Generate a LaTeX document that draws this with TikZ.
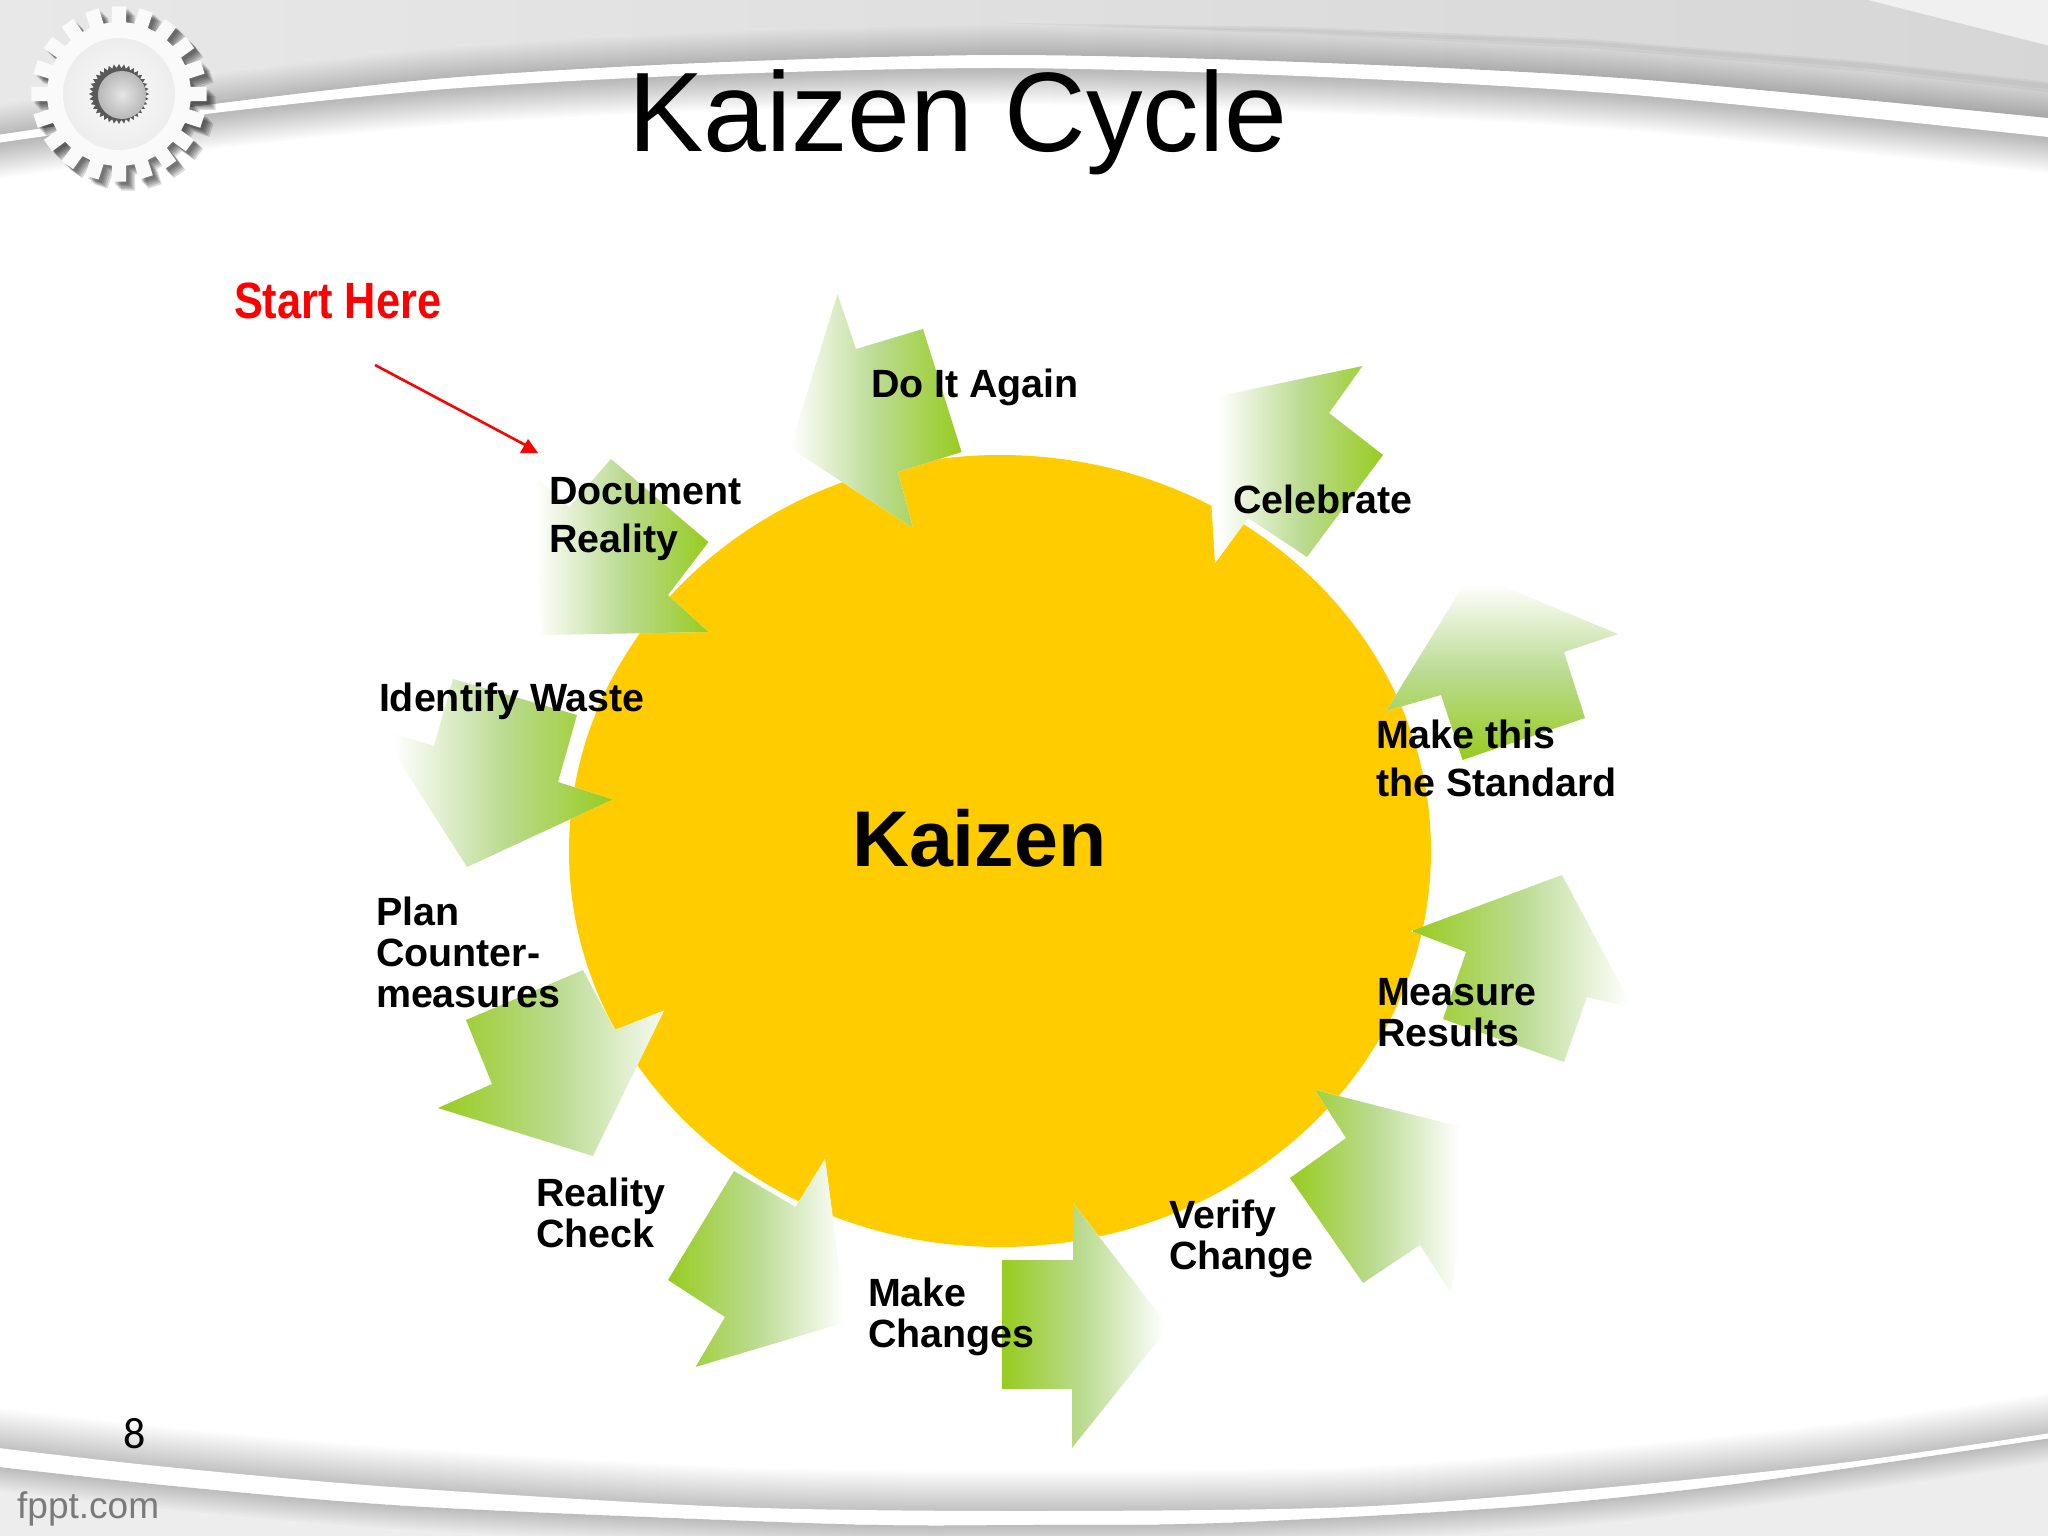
\documentclass[tikz,border=0pt]{standalone}
\usepackage{fontspec}
\setmainfont{Liberation Sans}
\newfontfamily\pagefont{Carlito}
\definecolor{kgreen}{HTML}{97CC1F}
\definecolor{kmid}{HTML}{BBDB92}
\definecolor{kyellow}{HTML}{FFCC00}
\def\CA#1#2{#1 -- plot[smooth] coordinates {(-10,136)(214,104)(446,78)(700,63)(1000,55)(1300,62)(1634,79)(2058,119)} -- #2}
\def\CB#1#2{#1 -- plot[smooth] coordinates {(-10,144)(214,113)(446,89)(700,75)(1000,68)(1300,76)(1634,95)(2058,138)} -- #2}
\def\CC#1#2{#1 -- plot[smooth] coordinates {(-10,1447)(157,1466)(392,1487)(732,1507)(1024,1511)(1351,1507)(1612,1487)(1841,1463)(2058,1432)} -- #2}
\def\CD#1#2{#1 -- plot[smooth] coordinates {(-10,1466)(183,1487)(425,1507)(837,1524)(1024,1525)(1220,1523)(1514,1507)(1743,1483)(2058,1437)} -- #2}
\newcommand{\kzarrow}[2]{%
  \fill[white] #1 -- cycle;
  \begin{scope}\clip #1 -- cycle; #2 \end{scope}}
\newcommand{\gearoutline}{(-5.6:72) foreach \i in {0,...,19}{ -- ({\i*18-5.6}:72) -- ({\i*18-4.6}:88) -- ({\i*18+4.6}:88) -- ({\i*18+5.6}:72) } -- cycle}
\tikzset{
  lbl/.style={inner sep=0pt,outer sep=0pt,anchor=base west,align=left,font=\fontsize{39.4}{41}\selectfont\bfseries},
  fadeR/.style={left color=white,right color=kgreen,middle color=kmid},
  fadeL/.style={left color=kgreen,right color=white,middle color=kmid},
  fadeB/.style={top color=white,bottom color=kgreen,middle color=kmid}
}
\begin{document}
\begin{tikzpicture}[x=1pt,y=-1pt]
\useasboundingbox (0,0) rectangle (2048,1536);
\fill[white] (0,0) rectangle (2048,1536);
% top band: shadow below the swoosh
\foreach \s in {2,4,...,36}{
  \begin{scope}[yshift=-\s pt]
    \fill[black,opacity=.014] \CB{(-10,-100)}{(2058,-100) -- cycle};
  \end{scope}}
\fill[white] \CB{(-10,-10)}{(2058,-10) -- cycle};
\begin{scope}
  \clip \CA{(-10,-10)}{(2058,-10) -- cycle};
  \shade[left color=black!9,right color=black!16] (-10,-10) rectangle (2058,200);
  \fill[black!6] (1868,-10) -- (1868,0) -- (2058,48) -- (2058,-10) -- cycle;
  \foreach \s in {2,4,...,30}{
    \begin{scope}[yshift=\s pt]
      \fill[black,opacity=.012] \CA{(-10,260)}{(2058,260) -- cycle};
    \end{scope}}
  \fill[black,opacity=.04] (1000,23) -- (1300,27) -- (1586,39) -- (1872,62) -- (2058,83) -- (2058,93) -- (1872,72) -- (1586,48) -- (1300,34) -- cycle;
  \fill[black,opacity=.04] (1100,26) -- (1300,29) -- (1586,41) -- (1872,64) -- (2058,85) -- (2058,90) -- (1872,69) -- (1586,45) -- (1300,32) -- cycle;
\end{scope}
% bottom band
\foreach \s in {2,4,...,40}{
  \begin{scope}[yshift=\s pt]
    \fill[black,opacity=.012] \CC{(-10,1600)}{(2058,1600) -- cycle};
  \end{scope}}
\fill[white] \CC{(-10,1600)}{(2058,1600) -- cycle};
\begin{scope}
  \clip \CD{(-10,1600)}{(2058,1600) -- cycle};
  \fill[black!7] (-10,1400) rectangle (2058,1600);
  \foreach \s in {2,4,...,24}{
    \begin{scope}[yshift=-\s pt]
      \fill[black,opacity=.014] \CD{(-10,1300)}{(2058,1300) -- cycle};
    \end{scope}}
\end{scope}
% gear
\begin{scope}[shift={(119,94)}]
  \foreach \s in {9,7.5,6,4.5,3}{
    \begin{scope}[xshift=\s pt,yshift=-\s pt]
      \fill[black,opacity=.14] \gearoutline;
    \end{scope}}
  \fill[black!2] \gearoutline;
  \shade[inner color=black!2,outer color=black!7] (0,0) circle (56);
  \fill[black!65] (0:30) foreach \i in {0,...,35}{ -- ({\i*10}:30) -- ({\i*10+5}:26) } -- cycle;
  \shade[inner color=black!10,outer color=black!28] (3,1) circle (24);
\end{scope}
% main circle
\fill[kyellow] (1000,851) ellipse [x radius=431,y radius=396];
% arrows
\kzarrow{(837.5,294) -- (856,349) -- (923,329) -- (961.6,452) -- (898,472) -- (913,528) -- (790,448)}{\shade[fadeR] (790,200) rectangle (962,600);}
\kzarrow{(708.5,632) -- (668,595) -- (708.5,542) -- (611,459) -- (569,507) -- (528.5,470) -- (543,635)}{\shade[fadeR] (535,400) rectangle (709,700);}
\kzarrow{(1362.5,366) -- (1329,413) -- (1383,455) -- (1307,557) -- (1248,518) -- (1215,563) -- (1205,399)}{\shade[fadeR] (1218,300) rectangle (1384,600);}
\kzarrow{(1618,634) -- (1564,652) -- (1585,718) -- (1462.5,760) -- (1441,695) -- (1386,711) -- (1471,573)}{\shade[fadeB] (1350,583) rectangle (1650,760);}
\kzarrow{(1411,931) -- (1466,952) -- (1443,1019) -- (1564,1062) -- (1587,997) -- (1633,1008) -- (1562,875)}{\shade[fadeL] (1413,850) rectangle (1630,1100);}
\kzarrow{(1315,1090) -- (1346,1138) -- (1290,1178) -- (1363,1283) -- (1420,1245) -- (1451,1293) -- (1477,1131)}{\shade[fadeL] (1290,1050) rectangle (1460,1320);}
\kzarrow{(1002,1260) -- (1073,1260) -- (1073,1203) -- (1169,1327) -- (1072,1448) -- (1072,1389) -- (1002,1389)}{\shade[fadeL] (1002,1180) rectangle (1165,1470);}
\kzarrow{(734,1171) -- (668,1280) -- (725,1317) -- (695.5,1367) -- (846.5,1322) -- (825,1159) -- (795.5,1207)}{\shade[fadeL] (668,1130) rectangle (845,1390);}
\kzarrow{(438,1108) -- (492,1084) -- (466,1020) -- (583,970) -- (615,1030) -- (664,1010.5) -- (593,1156)}{\shade[fadeL] (438,930) rectangle (680,1170);}
\kzarrow{(613,799.5) -- (558,782) -- (577,715) -- (453,679) -- (434,746) -- (379,729) -- (467,867)}{\shade[fadeR] (393,650) rectangle (613,880);}
% red pointer
\coordinate (startA) at (375,365);
\coordinate (endA) at (531,448);
\draw[red,line width=2.6pt] (startA) -- (endA);
\fill[red] (528,439) -- (538,453) -- (520,453) -- cycle;
% text
\node[lbl,font=\fontsize{113}{113}\selectfont] (title) at (628,152) {Kaizen Cycle};
\node[lbl,red,font=\fontsize{51}{51}\selectfont\bfseries] (start) at (234,318) {\scalebox{.85}[1]{Start Here}};
\node[lbl,font=\fontsize{79}{79}\selectfont\bfseries] (center) at (852,866) {Kaizen};
\node[lbl] (t1) at (871,397) {Do It Again};
\node[lbl] (t2) at (1233,513) {Celebrate};
\node[lbl] (t3) at (1376,796) {Make this\\[7pt]the Standard};
\node[lbl] (t4) at (1377,1046) {Measure\\Results};
\node[lbl] (t5) at (1169,1269) {Verify\\Change};
\node[lbl] (t6) at (868,1347) {Make\\Changes};
\node[lbl] (t7) at (536,1247) {Reality\\Check};
\node[lbl] (t8) at (376,1007) {Plan\\Counter-\\measures};
\node[lbl] (t9) at (379,711) {Identify Waste};
\node[lbl] (t10) at (549,552) {Document\\[7pt]Reality};
\node[inner sep=0pt,anchor=base west,font=\pagefont\fontsize{44}{44}\selectfont] (pg) at (123,1448) {8};
\node[inner sep=0pt,anchor=base west,text=black!52,font=\fontsize{37}{37}\selectfont] (fp) at (17,1518) {fppt.com};
\end{tikzpicture}
\end{document}
